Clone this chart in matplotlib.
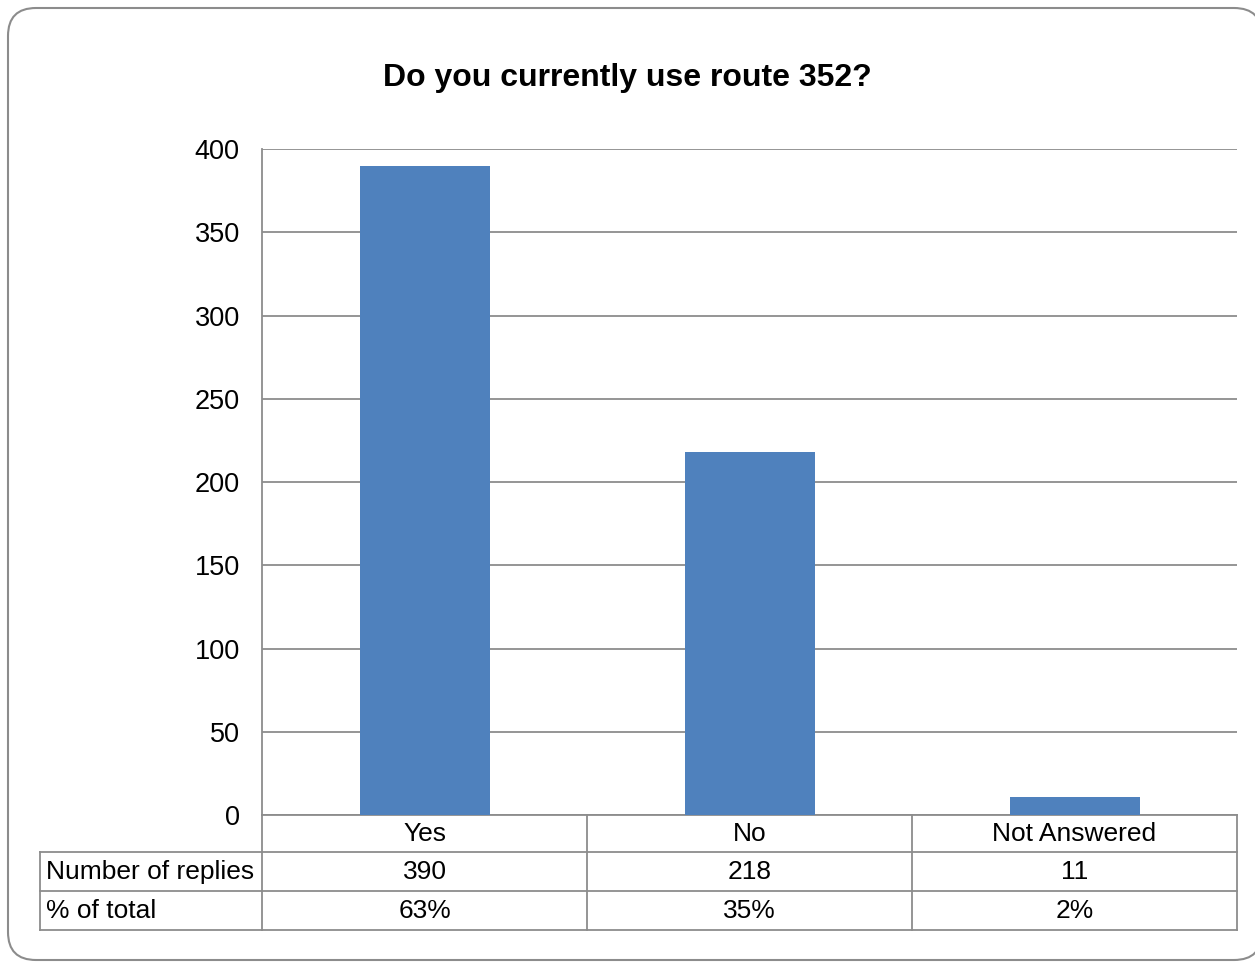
import matplotlib.pyplot as plt
from matplotlib.patches import FancyBboxPatch
from matplotlib.transforms import blended_transform_factory

plt.rcParams['font.family'] = ['Liberation Sans', 'DejaVu Sans']

categories = ['Yes', 'No', 'Not Answered']
replies = [390, 218, 11]
pct_labels = ['63%', '35%', '2%']
row_names = ['Number of replies', '% of total']
title = 'Do you currently use route 352?'

W, H = 1255, 963
fig = plt.figure(figsize=(W / 100, H / 100), dpi=100)
ax = fig.add_axes([262 / W, 1 - 815 / H, (1237 - 262) / W, (815 - 149) / H])

grey = '#8c8c8c'
fs = 19
x = list(range(len(categories)))
ax.bar(x, replies, width=0.4, color='#4f81bd', zorder=3)
ax.set_xlim(-0.5, len(categories) - 0.5)
ax.set_ylim(0, 400)
ax.set_yticks(range(0, 401, 50))
ax.set_xticks([])
ax.tick_params(axis='y', length=0, pad=16, labelsize=19.5)
ax.grid(axis='y', color=grey, linewidth=1.3, zorder=0)
for s in ['top', 'right', 'bottom']:
    ax.spines[s].set_visible(False)
ax.spines['left'].set_color(grey)
ax.spines['left'].set_linewidth(1.3)

# data table under the axis
tr = blended_transform_factory(ax.transData, ax.transAxes)
ph = 815 - 149
rows_y = [0, -37 / ph, -76 / ph, -115 / ph]
lab_x = (40 - 262) / (1237 - 262)
lkw = dict(color=grey, linewidth=1.3, clip_on=False)
n = len(categories)
# horizontal lines
ax.plot([-0.5, n - 0.5], [rows_y[0]] * 2, transform=tr, **lkw)
for yy in rows_y[1:]:
    ax.plot([0, 1], [yy, yy], transform=ax.transAxes, **lkw)
    ax.plot([lab_x, 0], [yy, yy], transform=ax.transAxes, **lkw)
# vertical lines
for i in range(n + 1):
    ax.plot([i - 0.5, i - 0.5], [rows_y[0], rows_y[-1]], transform=tr, **lkw)
ax.plot([lab_x, lab_x], [rows_y[1], rows_y[-1]], transform=ax.transAxes, **lkw)

row_vals = [[str(v) for v in replies], pct_labels]
for i, c in enumerate(categories):
    ax.text(i, (rows_y[0] + rows_y[1]) / 2, c, transform=tr, ha='center',
            va='center', fontsize=fs)
    for r in range(2):
        ax.text(i, (rows_y[r + 1] + rows_y[r + 2]) / 2, row_vals[r][i],
                transform=tr, ha='center', va='center', fontsize=fs)
for r, name in enumerate(row_names):
    ax.text(lab_x + 0.006, (rows_y[r + 1] + rows_y[r + 2]) / 2, name,
            transform=ax.transAxes, ha='left', va='center', fontsize=fs)

fig.text(0.5, 1 - 78 / H, title, ha='center', va='center', fontsize=23,
         fontweight='bold')

# outer rounded frame, its right side runs past the picture edge
box = FancyBboxPatch((8, 3), 1254, 952, boxstyle='round,pad=0,rounding_size=28',
                     transform=None, facecolor='white', edgecolor=grey,
                     linewidth=1.5, zorder=-1)
fig.patches.append(box)

fig.savefig('out.png', dpi=100)
